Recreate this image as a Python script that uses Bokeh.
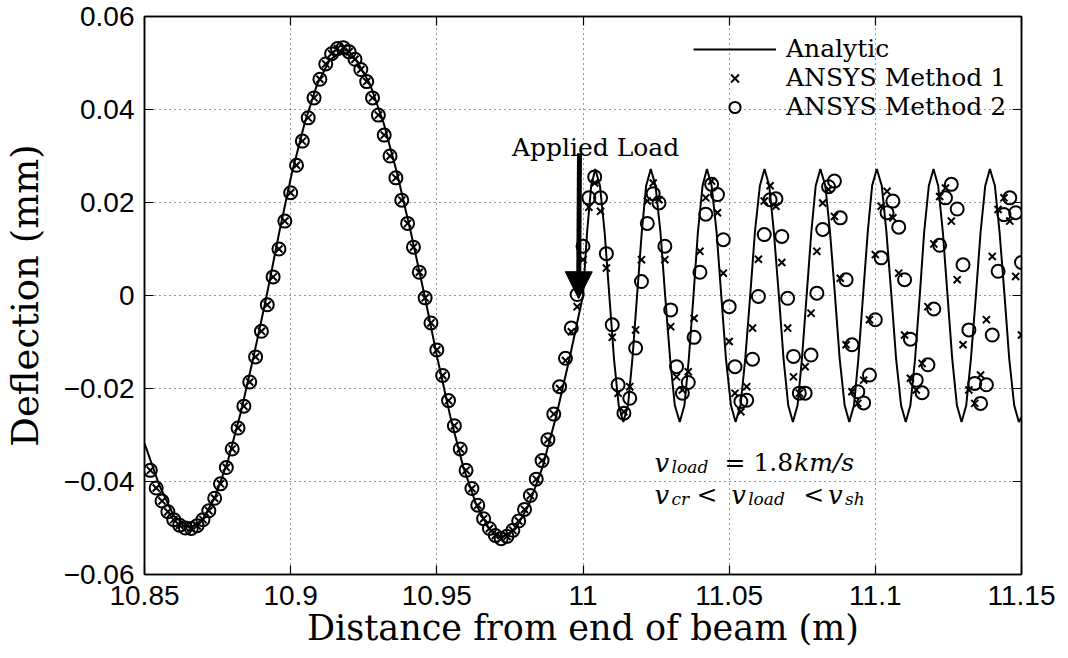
from bokeh.plotting import figure
from bokeh.models import (Range1d, FixedTicker, LinearAxis, Legend, LegendItem,
                          Label, Arrow, NormalHead)
from bokeh.embed import file_html
from bokeh.resources import INLINE

# ---------------- data ----------------
# Analytic solution, x < 11 (long wave)
ana_x_left = [10.8500, 10.8550, 10.8600, 10.8654, 10.8698, 10.8742, 10.8786, 10.8830,
              10.8874, 10.8918, 10.8961, 10.9004, 10.9048, 10.9091, 10.9134, 10.9177,
              10.9224, 10.9271, 10.9318, 10.9364, 10.9411, 10.9458, 10.9502, 10.9546,
              10.9590, 10.9635, 10.9679, 10.9723, 10.9769, 10.9815, 10.9862, 10.9908,
              10.9954, 11.0000]
ana_y_left = [-0.0318, -0.0407, -0.0474, -0.0500, -0.0483, -0.0433, -0.0354, -0.0250,
              -0.0129, 0.0000, 0.0136, 0.0263, 0.0371, 0.0455, 0.0507, 0.0525,
              0.0507, 0.0455, 0.0371, 0.0263, 0.0136, 0.0000, -0.0135, -0.0260,
              -0.0368, -0.0450, -0.0502, -0.0520, -0.0502, -0.0450, -0.0368, -0.0260,
              -0.0135, 0.0000]
# Analytic solution, x > 11 (short wave)
ana_x_right = [11.0014, 11.0028, 11.0042,
               11.0058, 11.0074, 11.0090, 11.0106, 11.0122, 11.0138,
               11.0154, 11.0169, 11.0185, 11.0201, 11.0216, 11.0232,
               11.0248, 11.0265, 11.0281, 11.0298, 11.0314, 11.0331,
               11.0347, 11.0362, 11.0378, 11.0393, 11.0409, 11.0424,
               11.0440, 11.0457, 11.0473, 11.0489, 11.0506, 11.0522,
               11.0539, 11.0555, 11.0572, 11.0588, 11.0605, 11.0621,
               11.0637, 11.0653, 11.0670, 11.0686, 11.0702, 11.0718,
               11.0734, 11.0749, 11.0765, 11.0781, 11.0796, 11.0812,
               11.0829, 11.0845, 11.0862, 11.0878, 11.0895, 11.0911,
               11.0927, 11.0942, 11.0958, 11.0974, 11.0989, 11.1005,
               11.1022, 11.1038, 11.1055, 11.1071, 11.1088, 11.1104,
               11.1120, 11.1136, 11.1152, 11.1167, 11.1183, 11.1199,
               11.1215, 11.1231, 11.1247, 11.1263, 11.1279, 11.1295,
               11.1311, 11.1327, 11.1344, 11.1360, 11.1376, 11.1392,
               11.1409, 11.1425, 11.1442, 11.1458, 11.1475, 11.1491,
               11.1500]
ana_y_right = [0.0136, 0.0236, 0.0272,
               0.0236, 0.0136, 0.0000, -0.0136, -0.0236, -0.0272,
               -0.0236, -0.0136, 0.0000, 0.0136, 0.0236, 0.0272,
               0.0236, 0.0136, 0.0000, -0.0136, -0.0236, -0.0272,
               -0.0236, -0.0136, 0.0000, 0.0136, 0.0236, 0.0272,
               0.0236, 0.0136, 0.0000, -0.0136, -0.0236, -0.0272,
               -0.0236, -0.0136, 0.0000, 0.0136, 0.0236, 0.0272,
               0.0236, 0.0136, 0.0000, -0.0136, -0.0236, -0.0272,
               -0.0236, -0.0136, 0.0000, 0.0136, 0.0236, 0.0272,
               0.0236, 0.0136, 0.0000, -0.0136, -0.0236, -0.0272,
               -0.0236, -0.0136, 0.0000, 0.0136, 0.0236, 0.0272,
               0.0236, 0.0136, 0.0000, -0.0136, -0.0236, -0.0272,
               -0.0236, -0.0136, 0.0000, 0.0136, 0.0236, 0.0272,
               0.0236, 0.0136, 0.0000, -0.0136, -0.0236, -0.0272,
               -0.0236, -0.0136, 0.0000, 0.0136, 0.0236, 0.0272,
               0.0236, 0.0136, 0.0000, -0.0136, -0.0236, -0.0272,
               -0.0262]

# FE node positions (m)
node_x = [10.852, 10.854, 10.856, 10.858, 10.860, 10.862, 10.864, 10.866, 10.868, 10.870,
          10.872, 10.874, 10.876, 10.878, 10.880, 10.882, 10.884, 10.886, 10.888, 10.890,
          10.892, 10.894, 10.896, 10.898, 10.900, 10.902, 10.904, 10.906, 10.908, 10.910,
          10.912, 10.914, 10.916, 10.918, 10.920, 10.922, 10.924, 10.926, 10.928, 10.930,
          10.932, 10.934, 10.936, 10.938, 10.940, 10.942, 10.944, 10.946, 10.948, 10.950,
          10.952, 10.954, 10.956, 10.958, 10.960, 10.962, 10.964, 10.966, 10.968, 10.970,
          10.972, 10.974, 10.976, 10.978, 10.980, 10.982, 10.984, 10.986, 10.988, 10.990,
          10.992, 10.994, 10.996, 10.998, 11.000, 11.002, 11.004, 11.006, 11.008, 11.010,
          11.012, 11.014, 11.016, 11.018, 11.020, 11.022, 11.024, 11.026, 11.028, 11.030,
          11.032, 11.034, 11.036, 11.038, 11.040, 11.042, 11.044, 11.046, 11.048, 11.050,
          11.052, 11.054, 11.056, 11.058, 11.060, 11.062, 11.064, 11.066, 11.068, 11.070,
          11.072, 11.074, 11.076, 11.078, 11.080, 11.082, 11.084, 11.086, 11.088, 11.090,
          11.092, 11.094, 11.096, 11.098, 11.100, 11.102, 11.104, 11.106, 11.108, 11.110,
          11.112, 11.114, 11.116, 11.118, 11.120, 11.122, 11.124, 11.126, 11.128, 11.130,
          11.132, 11.134, 11.136, 11.138, 11.140, 11.142, 11.144, 11.146, 11.148, 11.150]

# ANSYS Method 1 (crosses)
m1_y = [-0.0376, -0.0414, -0.0442, -0.0465, -0.0482, -0.0494, -0.0500, -0.0501, -0.0495, -0.0482,
        -0.0463, -0.0436, -0.0405, -0.0370, -0.0330, -0.0285, -0.0238, -0.0186, -0.0132, -0.0077,
        -0.0020, 0.0040, 0.0100, 0.0160, 0.0221, 0.0280, 0.0332, 0.0382, 0.0425, 0.0465,
        0.0498, 0.0520, 0.0531, 0.0533, 0.0524, 0.0508, 0.0486, 0.0460, 0.0425, 0.0388,
        0.0345, 0.0300, 0.0253, 0.0205, 0.0155, 0.0104, 0.0050, -0.0005, -0.0059, -0.0117,
        -0.0172, -0.0226, -0.0280, -0.0330, -0.0376, -0.0415, -0.0451, -0.0480, -0.0501, -0.0516,
        -0.0523, -0.0518, -0.0505, -0.0485, -0.0460, -0.0430, -0.0395, -0.0355, -0.0310, -0.0255,
        -0.0200, -0.0140, -0.0078, -0.0024, 0.0077, 0.0190, 0.0242, 0.0181, 0.0059, -0.0090,
        -0.0210, -0.0250, -0.0196, -0.0074, 0.0077, 0.0203, 0.0242, 0.0206, 0.0077, -0.0067,
        -0.0175, -0.0203, -0.0164, -0.0049, 0.0095, 0.0210, 0.0246, 0.0178, 0.0048, -0.0099,
        -0.0210, -0.0250, -0.0196, -0.0070, 0.0078, 0.0203, 0.0236, 0.0192, 0.0071, -0.0070,
        -0.0175, -0.0210, -0.0153, -0.0038, 0.0095, 0.0199, 0.0228, 0.0170, 0.0037, -0.0106,
        -0.0207, -0.0232, -0.0182, -0.0052, 0.0088, 0.0192, 0.0224, 0.0167, 0.0048, -0.0085,
        -0.0178, -0.0203, -0.0146, -0.0024, 0.0111, 0.0213, 0.0231, 0.0160, 0.0034, -0.0106,
        -0.0203, -0.0232, -0.0171, -0.0052, 0.0084, 0.0185, 0.0210, 0.0160, 0.0041, -0.0085]

# ANSYS Method 2 (circles)
m2_y = [-0.0376, -0.0414, -0.0442, -0.0465, -0.0482, -0.0494, -0.0500, -0.0501, -0.0495, -0.0482,
        -0.0463, -0.0436, -0.0405, -0.0370, -0.0330, -0.0285, -0.0238, -0.0186, -0.0132, -0.0077,
        -0.0020, 0.0040, 0.0100, 0.0160, 0.0221, 0.0280, 0.0332, 0.0382, 0.0425, 0.0465,
        0.0498, 0.0520, 0.0531, 0.0533, 0.0524, 0.0508, 0.0486, 0.0460, 0.0425, 0.0388,
        0.0345, 0.0300, 0.0253, 0.0205, 0.0155, 0.0104, 0.0050, -0.0005, -0.0059, -0.0117,
        -0.0172, -0.0226, -0.0280, -0.0330, -0.0376, -0.0415, -0.0451, -0.0480, -0.0501, -0.0516,
        -0.0523, -0.0518, -0.0505, -0.0485, -0.0460, -0.0430, -0.0395, -0.0355, -0.0310, -0.0255,
        -0.0196, -0.0135, -0.0070, 0.0002, 0.0106, 0.0210, 0.0255, 0.0210, 0.0090, -0.0063,
        -0.0192, -0.0253, -0.0221, -0.0113, 0.0030, 0.0155, 0.0219, 0.0199, 0.0106, -0.0031,
        -0.0153, -0.0210, -0.0187, -0.0090, 0.0050, 0.0175, 0.0239, 0.0217, 0.0120, -0.0024,
        -0.0153, -0.0228, -0.0225, -0.0137, -0.0002, 0.0131, 0.0206, 0.0208, 0.0127, -0.0006,
        -0.0131, -0.0210, -0.0210, -0.0128, 0.0005, 0.0142, 0.0234, 0.0246, 0.0167, 0.0034,
        -0.0106, -0.0207, -0.0231, -0.0171, -0.0052, 0.0081, 0.0178, 0.0203, 0.0147, 0.0034,
        -0.0094, -0.0182, -0.0209, -0.0149, -0.0029, 0.0108, 0.0210, 0.0239, 0.0186, 0.0066,
        -0.0074, -0.0189, -0.0232, -0.0192, -0.0085, 0.0052, 0.0174, 0.0210, 0.0178, 0.0071]

x_ticks = [10.85, 10.9, 10.95, 11.0, 11.05, 11.1, 11.15]
x_tick_labels = ["10.85", "10.9", "10.95", "11", "11.05", "11.1", "11.15"]
y_ticks = [-0.06, -0.04, -0.02, 0.0, 0.02, 0.04, 0.06]
y_tick_labels = ["\u22120.06", "\u22120.04", "\u22120.02", "0", "0.02", "0.04", "0.06"]

series_labels = ["Analytic", "ANSYS Method 1", "ANSYS Method 2"]

# ---------------- figure ----------------
SERIF = "DejaVu Serif"
SANS = "Liberation Sans"

p = figure(width=1068, height=658, output_backend="svg", toolbar_location=None,
           x_range=Range1d(10.85, 11.15), y_range=Range1d(-0.06, 0.06),
           min_border_left=142, min_border_right=47, min_border_top=16,
           min_border_bottom=84, background_fill_color="white",
           border_fill_color="white")

p.outline_line_color = "black"
p.outline_line_width = 1.5

xt = FixedTicker(ticks=x_ticks)
yt = FixedTicker(ticks=y_ticks)

p.xaxis.ticker = xt
p.yaxis.ticker = yt
p.xaxis.major_label_overrides = {t: s for t, s in zip(x_ticks, x_tick_labels)}
p.yaxis.major_label_overrides = {t: s for t, s in zip(y_ticks, y_tick_labels)}

for ax in (p.xaxis[0], p.yaxis[0]):
    ax.major_tick_in = 9
    ax.major_tick_out = 0
    ax.minor_tick_in = 0
    ax.minor_tick_out = 0
    ax.axis_line_width = 1.5
    ax.axis_line_color = "black"
    ax.major_tick_line_width = 1.2
    ax.major_label_text_font = SANS
    ax.major_label_text_font_size = "28px"
    ax.major_label_text_color = "black"
    ax.axis_label_text_font = SERIF
    ax.axis_label_text_font_style = "normal"
    ax.axis_label_text_color = "black"

p.xaxis.axis_label = "Distance from end of beam (m)"
p.yaxis.axis_label = "Deflection (mm)"
p.xaxis.axis_label_text_font_size = "35px"
p.yaxis.axis_label_text_font_size = "37px"
p.xaxis.major_label_standoff = 11
p.xaxis.axis_label_standoff = 0
p.yaxis.major_label_standoff = 10
p.yaxis.axis_label_standoff = 14

# mirror ticks on top / right (no labels drawn)
for side, tk in (("above", xt), ("right", yt)):
    ax = LinearAxis(ticker=tk, major_tick_in=9, major_tick_out=0,
                    minor_tick_in=0, minor_tick_out=0,
                    major_label_text_font_size="1px", major_label_text_color=None,
                    major_label_standoff=0,
                    axis_line_width=1.5, major_tick_line_width=1.2)
    p.add_layout(ax, side)

for g, tk in ((p.xgrid, xt), (p.ygrid, yt)):
    g.ticker = tk
    g.grid_line_color = "black"
    g.grid_line_alpha = 0.8
    g.grid_line_width = 1
    g.grid_line_dash = "1 4"

# ---------------- glyphs ----------------
ana_x = ana_x_left + ana_x_right
ana_y = ana_y_left + ana_y_right

r_line = p.line(ana_x, ana_y, line_color="black", line_width=2)
r_m1 = p.scatter(node_x, m1_y, marker="x", size=10, line_color="black", line_width=2)
r_m2 = p.scatter(node_x, m2_y, marker="circle", size=13, line_color="black",
                 line_width=2, fill_color=None)

legend = Legend(items=[LegendItem(label=series_labels[0], renderers=[r_line]),
                       LegendItem(label=series_labels[1], renderers=[r_m1]),
                       LegendItem(label=series_labels[2], renderers=[r_m2])],
                location=(549, 453), padding=0, margin=0, spacing=0,
                glyph_width=83, glyph_height=28, label_height=20,
                label_standoff=10, border_line_color=None,
                background_fill_alpha=0.0,
                label_text_font=SERIF, label_text_font_size="25px",
                label_text_color="black")
p.add_layout(legend)

# ---------------- annotations ----------------
p.add_layout(Arrow(end=NormalHead(size=27, fill_color="black", line_color="black"),
                   x_start=10.9988, y_start=0.0306, x_end=10.9985, y_end=-0.0007,
                   line_width=5, line_color="black"))
p.add_layout(Label(x=11.0043, y=0.0318, text="Applied Load", text_align="center",
                   text_baseline="alphabetic", text_font=SERIF,
                   text_font_size="25px", text_color="black"))

math_pieces = [
    # text, x, y, size, style
    ("v", 11.0245, -0.0360, "26px", "italic"),
    ("load", 11.0303, -0.0369, "17px", "italic"),
    ("= 1.8", 11.0484, -0.0360, "25px", "normal"),
    ("km/s", 11.0722, -0.0360, "25px", "italic"),
    ("v", 11.0245, -0.0429, "26px", "italic"),
    ("cr", 11.0303, -0.0438, "17px", "italic"),
    ("<", 11.0388, -0.0429, "25px", "normal"),
    ("v", 11.0507, -0.0429, "26px", "italic"),
    ("load", 11.0565, -0.0438, "17px", "italic"),
    ("<", 11.0753, -0.0429, "25px", "normal"),
    ("v", 11.0838, -0.0429, "26px", "italic"),
    ("sh", 11.0896, -0.0438, "17px", "italic"),
]
for t, x, y, s, st in math_pieces:
    p.add_layout(Label(x=x, y=y, text=t, text_align="left",
                       text_baseline="alphabetic", text_font=SERIF,
                       text_font_size=s, text_font_style=st, text_color="black"))

open("out.html", "w").write(file_html(p, INLINE))
